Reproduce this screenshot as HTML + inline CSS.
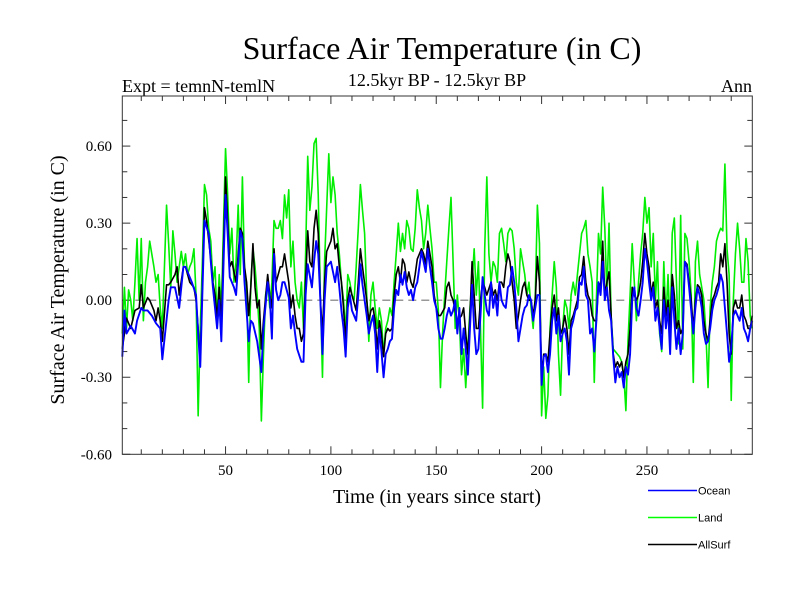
<!DOCTYPE html>
<html><head><meta charset="utf-8"><style>
html,body{margin:0;padding:0;background:#fff;}
svg{display:block;font-family:"Liberation Serif",serif;}
</style></head><body>
<svg id="chart" width="800" height="600" viewBox="0 0 800 600">
<text x="442" y="59" font-size="32" text-anchor="middle">Surface Air Temperature (in C)</text>
<text x="122" y="92" font-size="18">Expt = temnN-temlN</text>
<text x="437" y="86" font-size="18" text-anchor="middle">12.5kyr BP - 12.5kyr BP</text>
<text x="752" y="92" font-size="18" text-anchor="end">Ann</text>
<text transform="translate(64,280) rotate(-90)" font-size="20" text-anchor="middle">Surface Air Temperature (in C)</text>
<text x="437" y="503" font-size="20" text-anchor="middle">Time (in years since start)</text>
<g id="axes"></g>
<g id="series"></g>
<rect x="122.3" y="96" width="630" height="358.3" fill="none" stroke="#333" stroke-width="1"/>
<g>
<g><line x1="648" y1="490.5" x2="697" y2="490.5" stroke="#0000ff" stroke-width="1.5"/><text x="698" y="494.5" font-family="Liberation Sans, sans-serif" font-size="11">Ocean</text></g>
<g><line x1="648" y1="517.5" x2="697" y2="517.5" stroke="#00ff00" stroke-width="1.5"/><text x="698" y="521.5" font-family="Liberation Sans, sans-serif" font-size="11">Land</text></g>
<g><line x1="648" y1="544.5" x2="697" y2="544.5" stroke="#000" stroke-width="1.5"/><text x="698" y="548.5" font-family="Liberation Sans, sans-serif" font-size="11">AllSurf</text></g>
</g>
</svg>
<script>
const yTicks = [-0.6, -0.3, 0, 0.3, 0.6];
const yTickLabels = ["-0.60", "-0.30", "0.00", "0.30", "0.60"];
const xTicks = [50, 100, 150, 200, 250];
const xTickLabels = ["50", "100", "150", "200", "250"];
const oceanPairs = [1,-0.22,2,-0.04,3,-0.13,5,-0.10,7,-0.13,8,-0.08,10,-0.03,11,-0.04,13,-0.04,15,-0.06,17,-0.09,19,-0.11,20,-0.23,23,0.00,24,0.05,26,0.05,28,-0.03,30,0.13,31,0.13,34,0.07,36,0.02,37,-0.13,38,-0.26,40,0.31,42,0.26,43,0.15,44,0.05,46,-0.11,47,0.00,48,-0.16,49,0.13,50,0.41,51,0.26,52,0.09,54,0.05,55,0.02,57,0.27,58,0.24,59,0.07,61,-0.16,62,-0.08,63,-0.09,65,-0.16,67,-0.28,68,-0.11,70,0.07,71,0.01,72,-0.15,73,0.18,74,0.04,75,0.00,76,0.02,77,0.07,78,0.07,80,0.01,81,-0.11,82,-0.06,83,-0.13,84,-0.19,86,-0.24,87,-0.24,88,0.02,89,0.14,91,0.05,92,0.15,93,0.23,94,0.18,95,0.00,96,-0.21,97,0.00,98,0.13,100,0.15,101,0.11,102,0.07,103,0.13,104,0.05,105,-0.04,106,-0.11,107,-0.22,108,-0.03,109,0.02,110,-0.04,112,-0.08,113,0.02,114,0.14,115,0.06,117,-0.06,118,-0.13,119,-0.09,120,-0.06,121,-0.13,122,-0.28,123,-0.11,124,-0.20,125,-0.30,126,-0.21,127,-0.19,128,-0.16,129,-0.15,130,-0.03,131,0.04,132,0.02,133,0.10,134,0.06,135,0.11,136,0.05,137,0.02,138,0.04,139,0.00,140,0.05,141,0.07,143,0.19,144,0.15,145,0.11,146,0.20,147,0.13,148,0.07,149,0.00,150,-0.03,151,-0.11,152,-0.15,153,-0.15,154,-0.11,155,-0.06,156,-0.03,157,-0.06,158,-0.04,159,0.00,160,-0.13,161,-0.03,162,-0.21,163,-0.11,164,-0.19,165,-0.29,166,-0.11,167,0.06,168,-0.11,169,-0.21,170,-0.19,171,-0.06,172,0.09,173,0.02,174,-0.04,175,-0.06,176,0.07,177,-0.03,178,0.02,179,-0.06,180,0.07,181,0.00,182,-0.02,183,-0.03,184,0.05,185,0.06,186,0.13,187,0.07,188,-0.03,189,-0.16,190,-0.11,191,-0.06,192,-0.03,193,-0.02,194,0.02,195,0.00,196,-0.08,197,-0.03,198,0.02,199,0.02,200,-0.33,201,-0.22,202,-0.21,203,-0.28,204,-0.21,205,-0.08,206,-0.03,207,-0.13,208,-0.06,209,-0.16,210,-0.13,211,-0.11,212,-0.16,213,-0.29,214,-0.11,215,-0.08,216,-0.04,217,-0.03,218,0.07,219,0.06,220,0.13,221,0.02,222,0.00,223,-0.13,224,-0.11,225,-0.20,226,-0.08,227,0.07,228,0.02,229,0.15,230,0.00,231,0.05,232,-0.04,233,-0.08,234,-0.22,235,-0.32,236,-0.26,237,-0.30,238,-0.28,239,-0.34,240,-0.26,241,-0.29,242,-0.21,243,0.00,244,0.05,245,-0.03,246,-0.06,247,0.00,248,0.07,249,0.20,250,0.15,251,0.07,252,0.00,253,0.05,254,-0.08,255,-0.03,256,-0.11,257,-0.19,258,0.00,259,-0.11,260,-0.03,261,-0.21,262,0.05,263,-0.08,264,-0.19,265,-0.11,266,-0.21,267,-0.13,268,0.15,269,0.13,270,0.05,271,-0.04,272,-0.13,273,-0.03,274,0.05,275,0.02,276,-0.03,277,-0.13,278,-0.17,279,-0.16,280,-0.11,281,-0.04,282,0.00,283,0.02,284,0.05,285,0.10,286,0.07,287,-0.03,288,-0.13,289,-0.24,290,-0.19,291,-0.06,292,-0.04,293,-0.06,294,-0.08,295,-0.03,296,-0.11,297,-0.13,298,-0.16,299,-0.11,300,-0.08];
const landPairs = [1,-0.13,2,0.05,3,-0.11,4,0.04,5,0.00,6,-0.08,7,0.07,8,0.24,9,0.00,10,0.24,11,-0.08,12,0.07,13,0.13,14,0.23,15,0.18,16,0.13,17,0.07,18,0.10,19,-0.03,20,-0.11,21,0.13,22,0.37,23,0.22,24,0.05,25,0.27,26,0.18,27,0.07,28,0.13,29,0.19,30,0.13,31,0.18,32,0.10,33,0.13,34,0.15,35,0.20,36,0.02,37,-0.45,38,-0.11,39,0.15,40,0.45,41,0.41,42,0.28,43,0.23,44,0.07,45,0.13,46,-0.08,47,0.10,48,-0.04,49,0.28,50,0.59,51,0.41,52,0.18,53,0.28,54,0.07,55,0.15,56,0.37,57,0.10,58,0.48,59,0.13,60,0.05,61,-0.32,62,0.07,63,0.20,64,0.13,65,0.02,66,-0.11,67,-0.47,68,-0.21,69,0.02,70,0.07,71,-0.03,72,0.07,73,0.31,74,0.28,75,0.28,76,0.31,77,0.24,78,0.41,79,0.32,80,0.43,81,0.13,82,0.23,83,0.07,84,0.00,85,-0.03,86,0.07,87,-0.11,88,0.18,89,0.56,90,0.35,91,0.44,92,0.61,93,0.63,94,0.41,95,0.02,96,-0.30,97,0.15,98,0.36,99,0.57,100,0.38,101,0.48,102,0.41,103,0.26,104,0.18,105,0.07,106,0.00,107,-0.13,108,0.10,109,0.07,110,0.02,111,0.00,112,0.13,113,0.28,114,0.45,115,0.35,116,0.26,117,0.02,118,-0.16,119,0.02,120,0.07,121,-0.03,122,-0.11,123,-0.03,124,-0.08,125,-0.21,126,-0.11,127,-0.08,128,-0.03,129,-0.06,130,0.07,131,0.18,132,0.30,133,0.19,134,0.26,135,0.20,136,0.31,137,0.28,138,0.20,139,0.19,140,0.28,141,0.43,142,0.36,143,0.31,144,0.20,145,0.26,146,0.37,147,0.28,148,0.20,149,0.07,150,0.07,151,-0.04,152,-0.34,153,-0.13,154,0.02,155,0.15,156,0.28,157,0.40,158,0.15,159,-0.11,160,0.02,161,-0.08,162,-0.29,163,-0.19,164,-0.34,165,-0.19,166,-0.03,167,0.07,168,0.20,169,0.02,170,0.15,171,-0.11,172,-0.42,173,0.20,174,0.48,175,0.18,176,0.07,177,0.15,178,0.13,179,0.07,180,0.26,181,0.28,182,0.22,183,0.15,184,0.26,185,0.28,186,0.27,187,0.20,188,0.07,189,0.02,190,0.20,191,0.15,192,0.10,193,0.02,194,0.07,195,-0.03,196,-0.11,197,0.02,198,0.37,199,0.22,200,-0.45,201,-0.26,202,-0.46,203,-0.37,204,-0.11,205,0.02,206,0.15,207,0.05,208,-0.21,209,-0.37,210,-0.11,211,0.00,212,-0.03,213,-0.11,214,0.02,215,0.07,216,0.02,217,0.10,218,0.18,219,0.26,220,0.28,221,0.31,222,0.18,223,0.13,224,0.07,225,-0.32,226,0.00,227,0.26,228,0.18,229,0.44,230,0.28,231,0.02,232,0.30,233,-0.06,234,-0.19,235,-0.20,236,-0.21,237,-0.22,238,-0.24,239,-0.29,240,-0.43,241,-0.16,242,0.02,243,0.22,244,0.07,245,-0.08,246,0.07,247,0.18,248,0.26,249,0.40,250,0.30,251,0.36,252,0.13,253,0.26,254,0.00,255,0.15,256,-0.13,257,-0.20,258,0.15,259,-0.08,260,0.10,261,-0.13,262,0.26,263,0.32,264,0.07,265,-0.17,266,0.33,267,-0.19,268,0.26,269,0.24,270,0.15,271,0.02,272,-0.32,273,0.15,274,0.23,275,0.10,276,0.05,277,0.00,278,-0.13,279,-0.34,280,-0.03,281,0.07,282,0.13,283,0.23,284,0.26,285,0.28,286,0.27,287,0.53,288,0.20,289,0.10,290,-0.39,291,0.00,292,0.18,293,0.30,294,0.20,295,0.07,296,0.07,297,0.24,298,0.15,299,-0.06,300,-0.11];
const allSurfPairs = [1,-0.19,3,-0.07,5,-0.11,7,-0.04,9,-0.03,10,0.06,11,-0.03,13,0.01,14,0.00,16,-0.04,17,-0.08,18,-0.03,19,-0.08,20,-0.16,22,0.06,23,0.06,24,0.07,26,0.10,27,0.13,28,0.02,30,0.13,31,0.13,33,0.07,35,0.05,36,0.00,37,-0.11,38,-0.24,40,0.36,41,0.31,43,0.16,44,0.07,45,0.02,46,-0.07,47,0.05,48,-0.09,49,0.20,50,0.48,51,0.31,52,0.13,53,0.15,55,0.07,56,0.18,57,0.28,58,0.26,59,0.13,60,0.07,61,-0.06,62,0.05,63,0.22,64,0.05,65,-0.03,66,0.00,67,-0.19,68,-0.08,70,0.10,71,0.02,72,-0.03,73,0.20,74,0.07,75,0.10,76,0.13,77,0.13,78,0.18,80,0.07,81,-0.03,82,0.02,83,-0.06,84,-0.11,85,-0.11,86,-0.16,87,-0.13,88,0.07,89,0.27,90,0.15,91,0.13,92,0.28,93,0.35,94,0.26,95,0.00,96,-0.13,97,0.07,98,0.19,100,0.23,101,0.28,102,0.20,103,0.22,104,0.13,105,0.07,106,-0.03,107,-0.16,108,0.00,109,0.05,110,0.02,112,-0.04,113,0.07,114,0.20,115,0.13,117,0.00,118,-0.08,119,-0.04,120,-0.03,121,-0.08,122,-0.19,123,-0.08,124,-0.13,125,-0.22,126,-0.13,127,-0.11,128,-0.12,129,-0.11,130,0.02,131,0.10,132,0.13,133,0.07,134,0.16,135,0.14,136,0.07,137,0.11,138,0.07,139,0.05,140,0.10,141,0.16,143,0.20,144,0.18,145,0.14,146,0.23,147,0.18,148,0.13,149,0.02,150,-0.03,151,-0.06,152,-0.06,154,-0.03,155,0.05,156,0.07,157,0.02,158,0.00,160,-0.08,162,-0.06,163,-0.03,164,-0.13,165,-0.21,166,-0.06,167,0.15,168,0.02,169,-0.11,170,-0.11,171,0.00,172,0.07,173,0.05,174,0.02,176,0.07,177,0.02,178,0.04,179,0.00,180,0.07,181,0.07,182,0.05,183,0.13,184,0.18,185,0.15,186,0.07,187,0.00,188,-0.11,189,-0.06,190,0.00,191,0.05,192,0.07,193,0.02,194,0.00,195,0.00,196,-0.06,197,0.00,198,0.17,199,0.07,200,-0.29,201,-0.21,202,-0.21,203,-0.24,204,-0.13,205,-0.03,206,0.02,207,-0.08,208,-0.03,209,-0.13,210,-0.11,211,-0.06,212,-0.11,213,-0.21,214,-0.08,215,-0.06,216,-0.03,217,0.00,218,0.09,219,0.10,220,0.17,221,0.07,222,0.02,223,0.00,224,-0.06,225,-0.08,226,-0.08,227,0.07,228,0.05,229,0.23,230,0.02,231,0.07,232,0.11,233,-0.06,234,-0.21,235,-0.26,236,-0.24,237,-0.26,238,-0.24,239,-0.30,240,-0.24,241,-0.21,242,-0.11,243,0.05,244,0.02,245,0.00,246,0.02,247,0.07,248,0.15,249,0.26,250,0.18,251,0.13,252,0.02,253,0.07,254,-0.03,255,0.00,256,-0.08,257,-0.13,258,0.05,259,-0.06,260,0.00,261,-0.11,262,0.10,263,0.02,264,-0.11,265,-0.08,266,-0.13,267,-0.11,268,0.15,269,0.14,270,0.07,271,0.00,272,-0.11,273,0.00,274,0.06,275,0.05,276,0.02,277,-0.08,278,-0.13,279,-0.16,280,-0.08,281,0.00,282,0.02,283,0.05,284,0.07,285,0.18,286,0.13,287,0.22,288,0.07,289,-0.13,290,-0.21,291,-0.03,292,0.00,293,-0.03,294,-0.03,295,0.02,296,-0.06,297,-0.08,298,-0.11,299,-0.11,300,-0.06];

const NS = "http://www.w3.org/2000/svg";
const X0 = 122.3, X1 = 752.3, Y0 = 96, Y1 = 454.3;
const xMin = 1, xMax = 300, yMin = -0.6, yMax = 0.795;
function xs(t){ return X0 + (t - xMin) / (xMax - xMin) * (X1 - X0); }
function ys(v){ return Y1 - (v - yMin) / (yMax - yMin) * (Y1 - Y0); }
function mk(tag, attrs, parent){
  const e = document.createElementNS(NS, tag);
  for (const k in attrs) e.setAttribute(k, attrs[k]);
  parent.appendChild(e);
  return e;
}
const axes = document.getElementById('axes');
// zero line
const zl = mk('line', {x1:X0, x2:X1, y1:ys(0), y2:ys(0), stroke:'#777', 'stroke-width':1.2, 'stroke-dasharray':'8,5'}, axes);


// y ticks (major + minor)
for (let i = -6; i <= 7; i++) {
  const v = i / 10, y = ys(v), major = (i % 3 === 0) && i <= 6;
  const len = major ? 8 : 5;
  const t1 = mk('line', {x1:X0, x2:X0 + len, y1:y, y2:y, stroke:'#333', 'stroke-width':1}, axes);
  
  
  const t2 = mk('line', {x1:X1, x2:X1 - len, y1:y, y2:y, stroke:'#333', 'stroke-width':1}, axes);
  
  
}
yTicks.forEach((v, i) => {
  const t = mk('text', {x:112, y:ys(v) + 5, 'font-size':15, 'text-anchor':'end'}, axes);
  t.textContent = yTickLabels[i];
  
  
});
// x ticks
for (let yr = 10; yr < 300; yr += 10) {
  const x = xs(yr), major = yr % 50 === 0, len = major ? 8 : 5;
  const b = mk('line', {x1:x, x2:x, y1:Y1, y2:Y1 - len, stroke:'#333', 'stroke-width':1}, axes);
  
  
  const tp = mk('line', {x1:x, x2:x, y1:Y0, y2:Y0 + len, stroke:'#333', 'stroke-width':1}, axes);
  
  
}
xTicks.forEach((v, i) => {
  const t = mk('text', {x:xs(v), y:475, 'font-size':15, 'text-anchor':'middle'}, axes);
  t.textContent = xTickLabels[i];
  
  
});
// series
const series = document.getElementById('series');
function drawLine(pairs, color, width, name){
  let d = '';
  for (let i = 0; i < pairs.length; i += 2) {
    d += (i ? 'L' : 'M') + xs(pairs[i]).toFixed(2) + ',' + ys(pairs[i+1]).toFixed(2);
  }
  const p = mk('path', {d:d, fill:'none', stroke:color, 'stroke-width':width, 'stroke-linejoin':'round'}, series);
  
  
}
drawLine(landPairs, '#00ee00', 1.6, 'land-line');
drawLine(allSurfPairs, '#000000', 1.6, 'allsurf-line');
drawLine(oceanPairs, '#0000ff', 1.9, 'ocean-line');
</script>
</body></html>
